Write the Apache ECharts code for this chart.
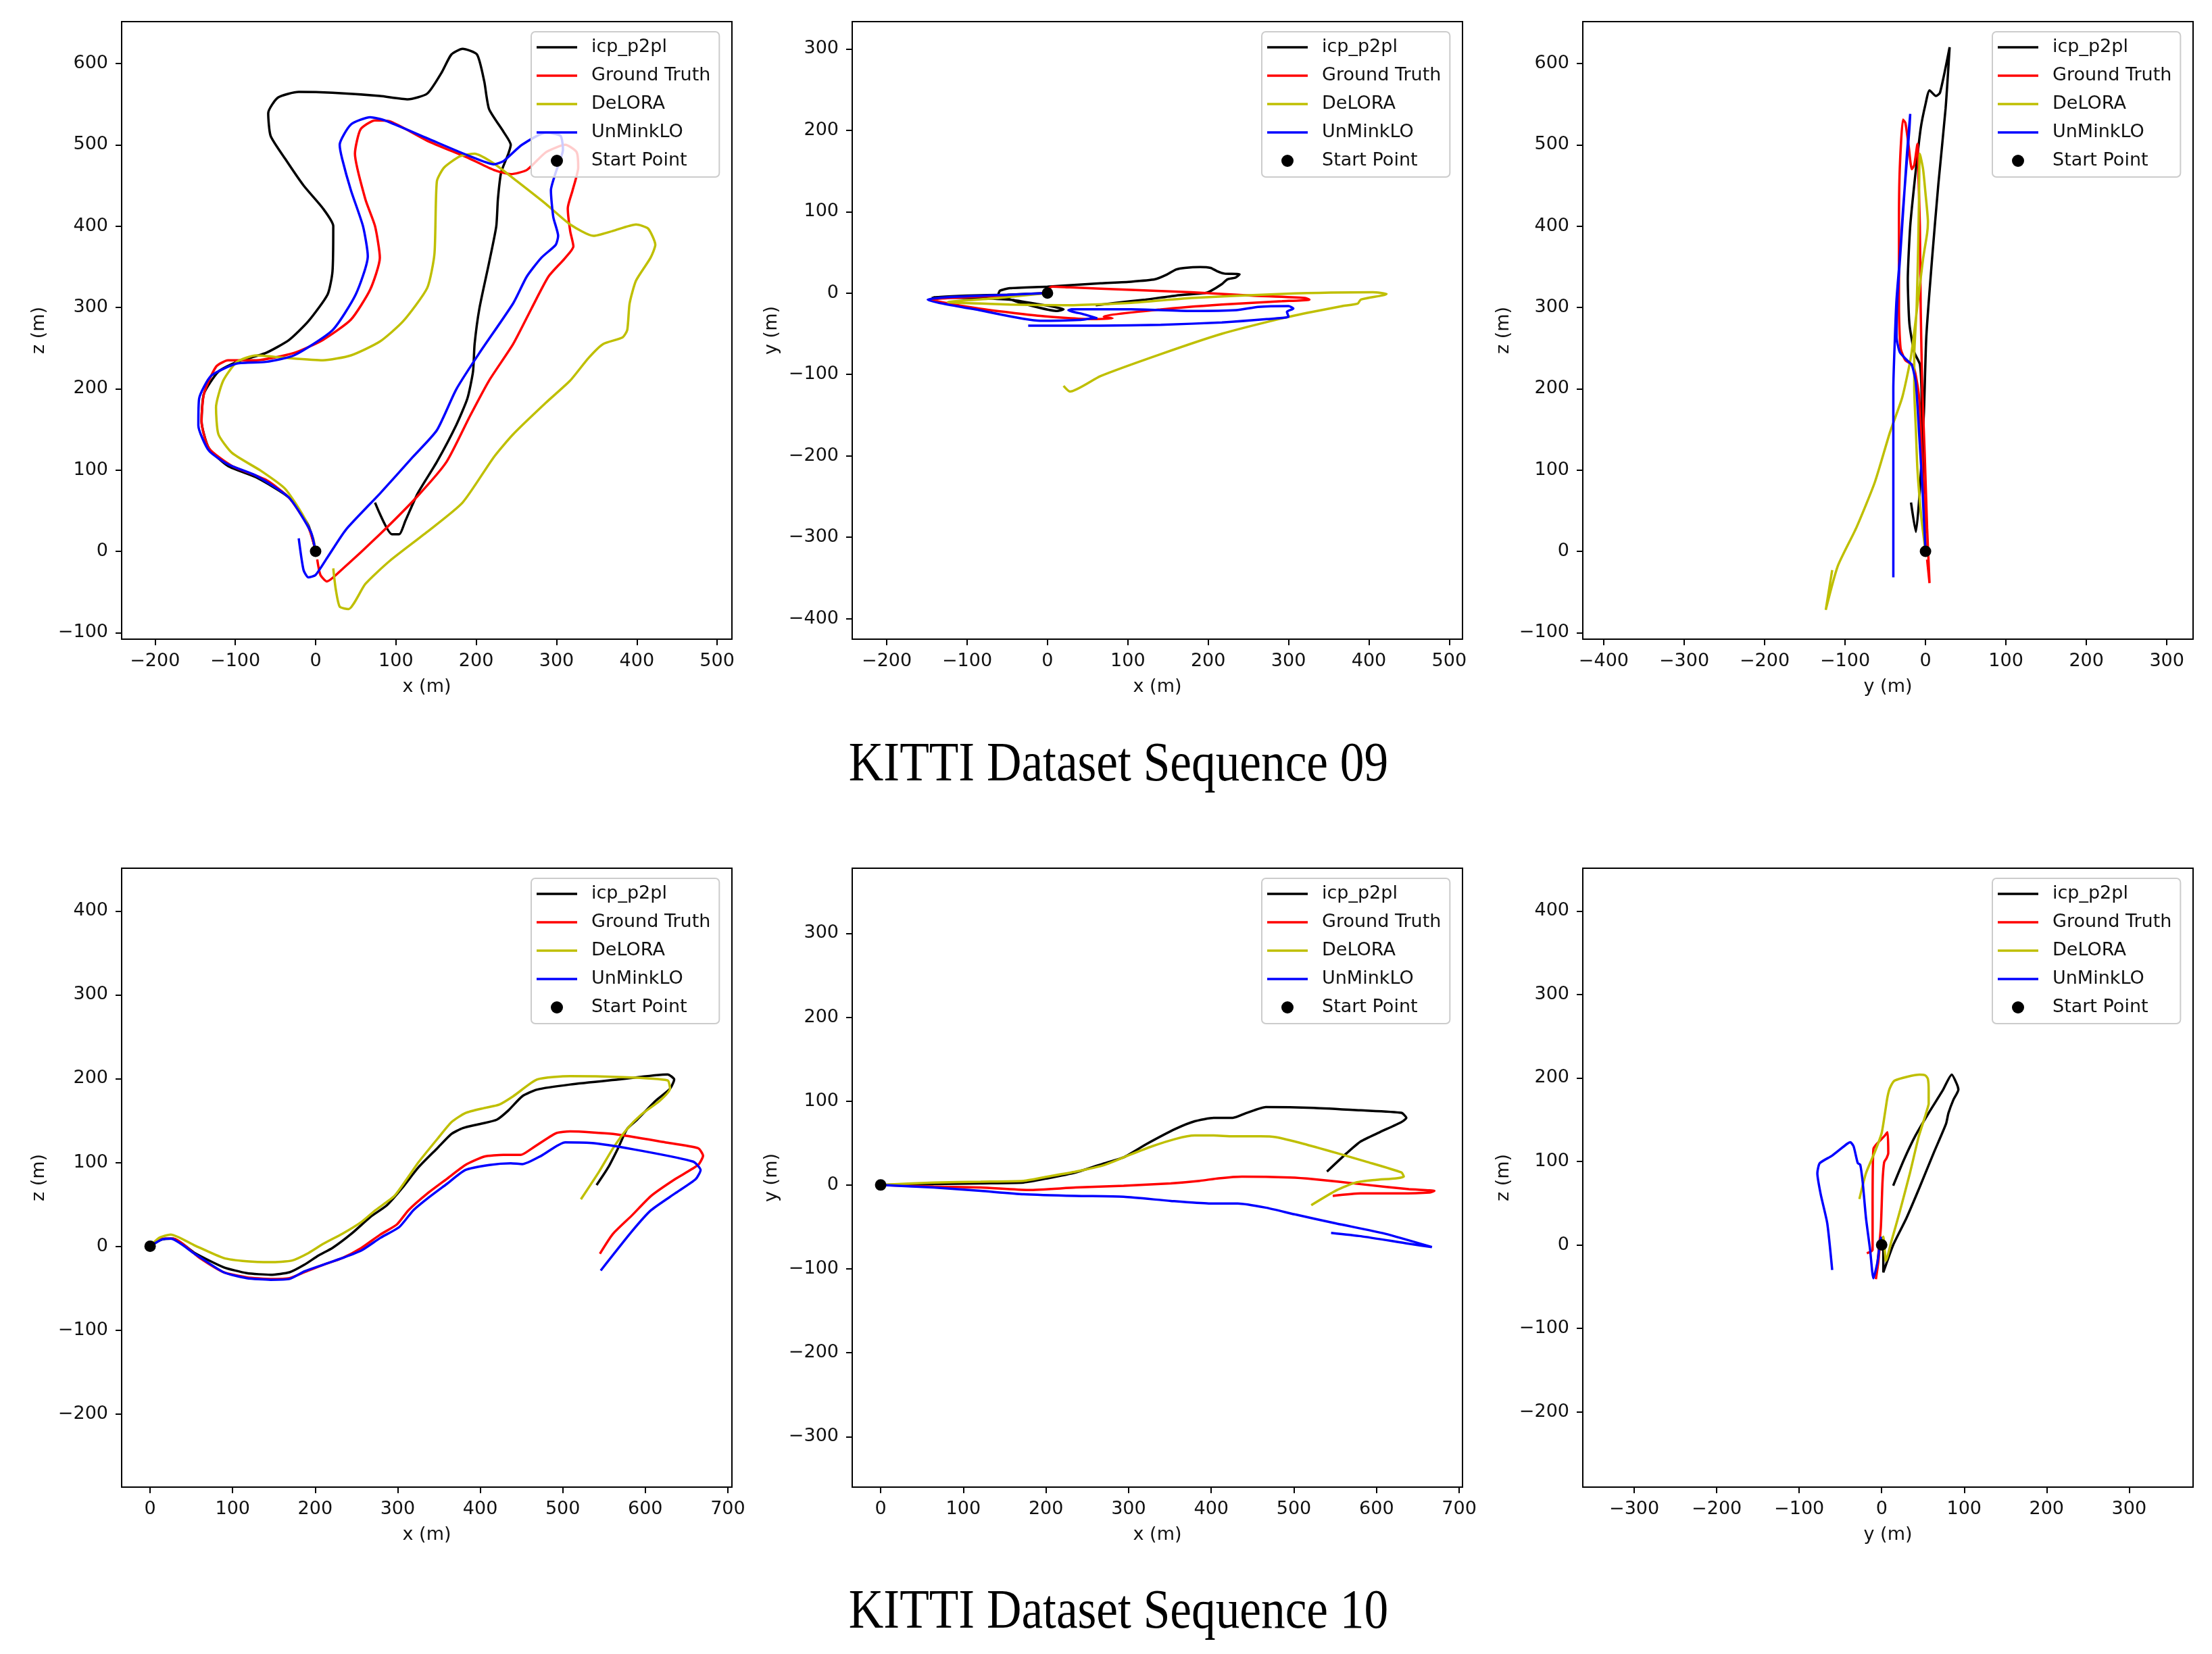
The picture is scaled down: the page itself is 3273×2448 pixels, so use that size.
<!DOCTYPE html>
<html>
<head>
<meta charset="utf-8">
<title>KITTI trajectories</title>
<script src="https://cdn.jsdelivr.net/npm/echarts@6.0.0/dist/echarts.min.js"></script>
<style>
  html, body { margin: 0; padding: 0; background: #fff; }
  #chart { width: 3273px; height: 2448px; }
</style>
</head>
<body>
<div id="chart"></div>
<script>
// ---- data (metres) ----
var methodNames = ['icp_p2pl', 'Ground Truth', 'DeLORA', 'UnMinkLO'];
var startPoint = [0, 0];

// Sequence 09, x-z
var seq09_xz_icp = [[0,0],[-9,32],[-33,66],[-74,91],[-109,105],[-133,127],[-142,160],[-139,194],[-121,221],[-98,233],[-62,244],[-33,260],[-9,283],[15,316],[21,344],[22,400],[9,422],[-15,450],[-38,483],[-56,511],[-59,539],[-47,558],[-21,565],[21,564],[80,560],[115,556],[139,563],[157,589],[169,611],[183,618],[201,611],[210,578],[216,544],[234,516],[243,500],[240,489],[231,466],[227,433],[225,400],[216,355],[204,299],[198,255],[196,221],[189,188],[175,155],[151,110],[127,71],[112,38],[104,21],[95,21],[74,60]];
var seq09_xz_gt = [[0,0],[-3,12],[-10,32],[-33,66],[-62,88],[-104,105],[-133,127],[-142,160],[-139,194],[-124,227],[-109,235],[-74,235],[-27,244],[9,260],[44,285],[68,322],[80,361],[74,400],[62,433],[49,489],[56,519],[74,530],[92,529],[139,505],[192,483],[222,469],[243,464],[263,469],[287,491],[311,500],[325,491],[327,472],[320,444],[314,422],[317,394],[321,375],[310,360],[290,338],[269,299],[246,255],[216,210],[192,166],[163,110],[127,68],[80,21],[32,-23],[14,-37],[6,-29],[2,-10]];
var seq09_xz_delora = [[0,0],[-3,16],[-15,43],[-38,77],[-68,99],[-104,121],[-121,144],[-124,177],[-115,210],[-98,233],[-74,241],[-38,238],[9,235],[44,241],[80,258],[109,283],[139,324],[148,366],[151,455],[160,472],[180,486],[198,489],[222,477],[251,455],[287,427],[317,402],[346,388],[370,394],[399,402],[414,397],[423,377],[417,361],[399,333],[391,305],[388,272],[382,263],[358,255],[340,238],[317,210],[287,183],[246,144],[222,116],[183,60],[139,24],[92,-12],[62,-40],[41,-71],[30,-68],[25,-46],[22,-21]];
var seq09_xz_unmink = [[0,0],[-6,24],[-33,66],[-74,93],[-109,107],[-133,124],[-146,155],[-145,188],[-130,216],[-98,231],[-62,233],[-27,241],[21,272],[50,316],[65,363],[59,400],[44,444],[33,483],[30,500],[44,525],[68,534],[86,530],[139,508],[192,486],[222,476],[234,480],[257,500],[287,515],[305,511],[308,494],[299,466],[293,444],[296,411],[302,388],[299,377],[281,361],[263,338],[246,305],[204,244],[175,199],[151,149],[121,116],[80,71],[38,27],[15,-7],[0,-29],[-9,-32],[-15,-23],[-21,16]];

// Sequence 09, x-y
var seq09_xy_icp = [[0,0],[-50,-2],[-100,-3],[-143,-5],[-100,-6],[-47,-8],[-9,-14],[13,-18],[20,-20],[12,-22],[-10,-18],[-40,-10],[-61,-1],[-59,3],[-47,6],[0,8],[66,12],[104,14],[134,17],[149,23],[160,29],[171,31],[190,32],[203,31],[211,27],[220,24],[239,23],[234,19],[224,17],[217,11],[202,2],[196,0],[160,-3],[122,-8],[85,-12],[60,-15]];
var seq09_xy_gt = [[0,0],[-50,-3],[-100,-5],[-145,-8],[-85,-19],[-9,-28],[55,-32],[81,-31],[70,-29],[141,-20],[217,-14],[292,-10],[326,-8],[320,-6],[254,-3],[179,1],[104,4],[28,7],[6,8],[0,5]];
var seq09_xy_delora = [[0,0],[-60,-6],[-124,-11],[-47,-14],[21,-15],[104,-12],[179,-6],[292,-1],[405,1],[422,-1],[416,-3],[390,-8],[386,-13],[367,-16],[330,-23],[292,-31],[217,-50],[141,-75],[66,-102],[28,-121],[20,-114]];
var seq09_xy_unmink = [[0,0],[-47,-2],[-122,-5],[-149,-8],[-85,-21],[-9,-34],[40,-33],[58,-31],[62,-31],[45,-26],[26,-21],[30,-20],[104,-20],[179,-22],[235,-21],[262,-17],[300,-16],[306,-19],[298,-23],[300,-29],[273,-32],[217,-36],[141,-39],[66,-40],[-24,-40]];

// Sequence 09, y-z
var seq09_yz_icp = [[0,0],[-2,60],[-4,140],[-5,200],[-7,230],[-14,245],[-20,280],[-22,334],[-19,400],[-13,460],[-6,520],[0,550],[5,567],[13,560],[18,564],[30,620],[25,545],[16,452],[8,358],[1,264],[-2,170],[-7,76],[-12,24],[-18,60]];
var seq09_yz_gt = [[0,0],[-2,60],[-5,130],[-8,190],[-15,228],[-25,235],[-31,250],[-33,300],[-33,400],[-32,470],[-28,531],[-25,527],[-21,499],[-17,470],[-14,475],[-10,501],[-9,470],[-7,400],[-6,300],[-4,200],[-1,120],[2,29],[5,-39],[2,-10]];
var seq09_yz_delora = [[0,0],[-5,40],[-10,100],[-12,150],[-14,200],[-14,240],[-11,300],[-9,380],[-8,440],[-7,489],[-3,470],[0,440],[3,405],[2,391],[-3,360],[-9,311],[-18,240],[-29,189],[-44,147],[-63,85],[-86,29],[-109,-18],[-124,-72],[-116,-23]];
var seq09_yz_unmink = [[0,0],[-2,40],[-4,80],[-8,146],[-12,207],[-17,229],[-24,236],[-32,245],[-36,264],[-35,311],[-31,370],[-27,430],[-23,490],[-19,538],[-20,520],[-24,470],[-28,420],[-32,360],[-36,310],[-38,264],[-40,200],[-40,120],[-40,40],[-40,-32],[-40,16]];

// Sequence 10, x-z
var seq10_xz_icp = [[0,0],[14,8],[28,9],[54,-8],[89,-25],[117,-32],[146,-34],[169,-31],[187,-22],[204,-11],[221,-2],[244,15],[267,35],[287,49],[305,69],[325,94],[348,117],[365,134],[379,141],[400,146],[420,151],[434,162],[451,179],[469,187],[509,193],[567,199],[627,205],[635,199],[630,188],[613,174],[590,151],[578,140],[567,117],[555,94],[541,73]];
var seq10_xz_gt = [[0,0],[14,9],[28,9],[60,-14],[89,-31],[117,-37],[146,-39],[169,-38],[187,-31],[210,-22],[233,-14],[256,-2],[279,14],[299,26],[313,43],[336,63],[359,80],[382,97],[405,107],[428,109],[449,109],[463,117],[492,135],[509,137],[561,134],[624,124],[664,117],[670,108],[664,97],[636,80],[607,60],[584,37],[561,15],[545,-9]];
var seq10_xz_delora = [[0,0],[11,10],[25,14],[54,1],[89,-14],[117,-18],[146,-19],[172,-17],[192,-8],[210,3],[233,15],[256,29],[273,43],[296,60],[313,83],[325,100],[348,128],[365,148],[382,159],[405,165],[423,169],[440,179],[469,199],[509,203],[567,202],[627,198],[630,188],[618,174],[595,157],[578,140],[561,117],[544,89],[522,56]];
var seq10_xz_unmink = [[0,0],[14,8],[25,9],[54,-9],[89,-31],[117,-38],[146,-40],[169,-39],[187,-30],[210,-22],[233,-14],[256,-5],[279,10],[302,23],[319,43],[336,57],[359,74],[382,91],[411,97],[437,99],[451,98],[474,108],[503,124],[538,123],[595,114],[658,101],[667,91],[661,80],[636,63],[607,43],[584,18],[546,-29]];

// Sequence 10, x-y
var seq10_xy_icp = [[0,0],[64,1],[121,2],[173,3],[202,8],[236,15],[271,26],[294,33],[322,49],[357,67],[380,76],[403,80],[426,80],[443,86],[466,93],[524,92],[581,89],[630,86],[636,80],[630,75],[604,63],[581,52],[564,38],[540,16]];
var seq10_xy_gt = [[0,0],[64,-2],[121,-3],[179,-6],[236,-3],[294,-1],[351,2],[386,5],[409,8],[437,10],[495,9],[524,7],[581,1],[639,-5],[670,-7],[664,-9],[627,-10],[581,-10],[547,-13]];
var seq10_xy_delora = [[0,0],[64,3],[121,4],[173,5],[202,10],[236,16],[271,24],[299,35],[328,46],[357,55],[380,59],[403,59],[426,58],[460,58],[478,57],[512,49],[552,38],[587,28],[630,15],[633,10],[624,8],[598,6],[575,3],[552,-6],[521,-24]];
var seq10_xy_unmink = [[0,0],[64,-3],[121,-7],[173,-11],[236,-13],[294,-14],[351,-19],[397,-22],[432,-22],[466,-27],[501,-35],[552,-46],[610,-58],[667,-74],[639,-70],[581,-61],[545,-57]];

// Sequence 10, y-z
var seq10_yz_icp = [[0,0],[1,9],[2,-10],[2,-33],[14,0],[30,32],[46,69],[63,110],[78,145],[81,158],[87,174],[93,186],[91,193],[85,204],[74,185],[57,158],[41,131],[27,102],[14,71]];
var seq10_yz_gt = [[0,0],[-1,9],[-4,-20],[-7,-41],[-4,-11],[-1,21],[1,75],[3,99],[6,104],[8,110],[7,135],[3,130],[-5,122],[-10,115],[-11,48],[-11,-6],[-18,-10]];
var seq10_yz_delora = [[0,0],[2,10],[4,-10],[5,-19],[12,5],[22,40],[34,85],[45,130],[53,155],[56,165],[57,169],[57,185],[56,199],[53,203],[46,204],[16,197],[10,188],[7,177],[4,158],[0,134],[-8,112],[-19,86],[-27,55]];
var seq10_yz_unmink = [[0,0],[-1,9],[-5,-20],[-10,-40],[-14,-6],[-19,32],[-23,75],[-26,96],[-29,98],[-34,118],[-38,123],[-42,121],[-60,107],[-75,98],[-78,86],[-74,61],[-66,26],[-60,-30]];

// tick labels
var ticks_m200_500 = [-200, -100, 0, 100, 200, 300, 400, 500];
var ticks_m100_600 = [-100, 0, 100, 200, 300, 400, 500, 600];
var ticks_m400_300 = [-400, -300, -200, -100, 0, 100, 200, 300];
var ticks_0_700 = [0, 100, 200, 300, 400, 500, 600, 700];
var ticks_m200_400 = [-200, -100, 0, 100, 200, 300, 400];
var ticks_m300_300 = [-300, -200, -100, 0, 100, 200, 300];

var sectionTitles = ['KITTI Dataset Sequence 09', 'KITTI Dataset Sequence 10'];

// ---- layout ----
var colors = ['#000000', '#ff0000', '#bfbf00', '#0000ff'];
var LINE_ICON = 'path://M0,0H60V3.5H0Z';
var FONT = 'DejaVu Sans';

var panels = [
  { left: 180,  top: 32,   h: 914, xName: 'x (m)', yName: 'z (m)', xr: [-241.5, 518.4], yr: [-108, 651.5], xt: ticks_m200_500, yt: ticks_m100_600, gap: 109,
    lines: [seq09_xz_icp, seq09_xz_gt, seq09_xz_delora, seq09_xz_unmink] },
  { left: 1261, top: 32,   h: 914, xName: 'x (m)', yName: 'y (m)', xr: [-243, 516.5], yr: [-425.3, 333.6], xt: ticks_m200_500, yt: ticks_m400_300, gap: 106,
    lines: [seq09_xy_icp, seq09_xy_gt, seq09_xy_delora, seq09_xy_unmink] },
  { left: 2342, top: 32,   h: 914, xName: 'y (m)', yName: 'z (m)', xr: [-426, 332.6], yr: [-108, 651.5], xt: ticks_m400_300, yt: ticks_m100_600, gap: 104,
    lines: [seq09_yz_icp, seq09_yz_gt, seq09_yz_delora, seq09_yz_unmink] },
  { left: 180,  top: 1285, h: 916, xName: 'x (m)', yName: 'z (m)', xr: [-34.5, 705], yr: [-287.4, 451.1], xt: ticks_0_700, yt: ticks_m200_400, gap: 109,
    lines: [seq10_xz_icp, seq10_xz_gt, seq10_xz_delora, seq10_xz_unmink] },
  { left: 1261, top: 1285, h: 916, xName: 'x (m)', yName: 'y (m)', xr: [-34.4, 704], yr: [-360.1, 377.6], xt: ticks_0_700, yt: ticks_m300_300, gap: 106,
    lines: [seq10_xy_icp, seq10_xy_gt, seq10_xy_delora, seq10_xy_unmink] },
  { left: 2342, top: 1285, h: 916, xName: 'y (m)', yName: 'z (m)', xr: [-362.4, 377.6], yr: [-290.2, 451.3], xt: ticks_m300_300, yt: ticks_m200_400, gap: 104,
    lines: [seq10_yz_icp, seq10_yz_gt, seq10_yz_delora, seq10_yz_unmink] }
];

function fmt(v) { return v < 0 ? '\u2212' + Math.abs(v) : String(v); }

function axis(i, name, range, ticks, isX, gap) {
  return {
    type: 'value', gridIndex: i, min: range[0], max: range[1],
    name: name, nameLocation: 'middle', nameGap: isX ? 57 : gap,
    nameTextStyle: { fontFamily: FONT, fontSize: 27, color: '#111' },
    axisLine: { show: false, onZero: false },
    axisTick: { show: true, length: 9, customValues: ticks, lineStyle: { color: '#000', width: 2 } },
    axisLabel: { customValues: ticks, formatter: fmt, fontFamily: FONT, fontSize: 27, color: '#111', margin: isX ? 19 : 20 },
    splitLine: { show: false }
  };
}

var grids = [], xAxes = [], yAxes = [], series = [], legends = [];
panels.forEach(function (p, i) {
  grids.push({ left: p.left, top: p.top, width: 903, height: p.h, show: true, borderColor: '#000', borderWidth: 2, containLabel: false });
  xAxes.push(axis(i, p.xName, p.xr, p.xt, true, 0));
  yAxes.push(axis(i, p.yName, p.yr, p.yt, false, p.gap));
  p.lines.forEach(function (d, k) {
    series.push({
      type: 'line', name: methodNames[k], xAxisIndex: i, yAxisIndex: i,
      data: d, symbol: 'none', smooth: 0.2, color: colors[k],
      lineStyle: { width: 3.5, color: colors[k] }, animation: false
    });
  });
  series.push({
    type: 'scatter', name: 'Start Point', xAxisIndex: i, yAxisIndex: i,
    data: [startPoint], symbolSize: 17, color: '#000', itemStyle: { color: '#000', opacity: 1 }, animation: false, z: 3
  });
  legends.push({
    left: p.left + 606, top: p.top + 15, orient: 'vertical', selectedMode: false,
    data: methodNames.map(function (n) { return { name: n, icon: LINE_ICON }; }).concat([{ name: 'Start Point', icon: 'circle' }]),
    itemWidth: 60, itemHeight: 18, itemGap: 12,
    itemStyle: { borderWidth: 0, opacity: 1 },
    padding: [8, 13, 9, 8],
    backgroundColor: 'rgba(255,255,255,0.8)', borderColor: '#cccccc', borderWidth: 2, borderRadius: 6,
    textStyle: { fontFamily: FONT, fontSize: 27, color: '#111', lineHeight: 30, padding: [0, 0, 0, 16] }
  });
});

var titles = sectionTitles.map(function (t, j) {
  return {
    type: 'text', x: 1655, y: j === 0 ? 1133 : 2387, scaleX: 0.87,
    style: { text: t, font: '82px "Liberation Serif"', fill: '#000', align: 'center', verticalAlign: 'middle' }
  };
});

var chart = echarts.init(document.getElementById('chart'), null, { renderer: 'canvas', devicePixelRatio: 1 });
chart.setOption({
  backgroundColor: '#fff',
  animation: false,
  grid: grids,
  xAxis: xAxes,
  yAxis: yAxes,
  legend: legends,
  series: series,
  graphic: titles
});
</script>
</body>
</html>
